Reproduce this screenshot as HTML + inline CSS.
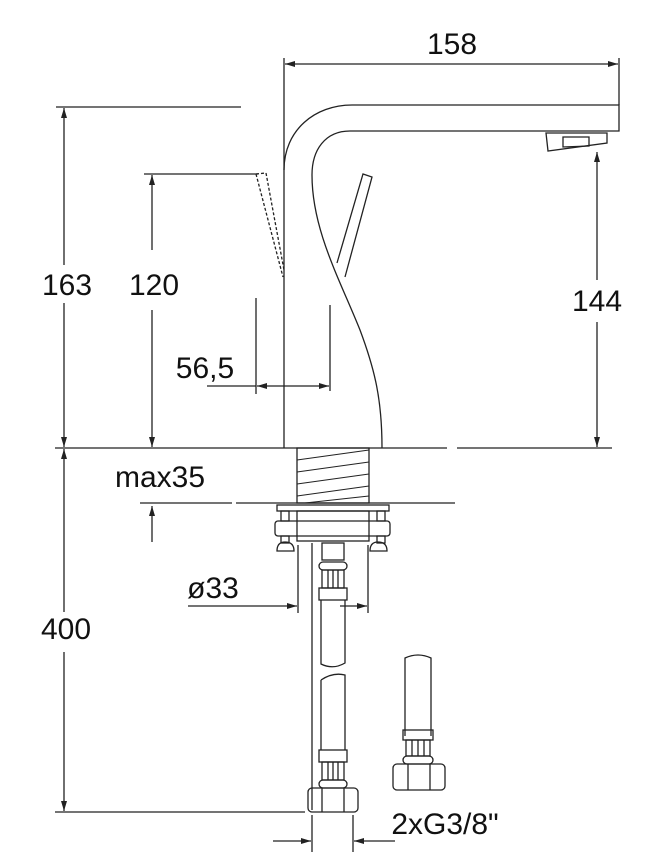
<!DOCTYPE html>
<html><head><style>body{margin:0;background:#fff}svg{display:block}</style></head><body>
<svg width="665" height="866" viewBox="0 0 665 866" xmlns="http://www.w3.org/2000/svg" font-family="Liberation Sans, sans-serif" font-size="30" fill="none" stroke="#222" stroke-width="1.3">
<defs>
<marker id="a" viewBox="0 0 10 6" refX="10" refY="3" markerWidth="10" markerHeight="6" orient="auto-start-reverse" markerUnits="userSpaceOnUse"><path d="M0,0L10,3L0,6z" fill="#222" stroke="none"/></marker>
</defs>
<g fill="#111" stroke="none">
<text x="452" y="54" text-anchor="middle">158</text>
<text x="67" y="295" text-anchor="middle">163</text>
<text x="154" y="295" text-anchor="middle">120</text>
<text x="597" y="311" text-anchor="middle">144</text>
<text x="205" y="378" text-anchor="middle">56,5</text>
<text x="160" y="487" text-anchor="middle">max35</text>
<text x="213" y="598" text-anchor="middle">ø33</text>
<text x="66" y="639" text-anchor="middle">400</text>
<text x="445" y="834" text-anchor="middle">2xG3/8"</text>
</g>
<!-- top dim -->
<line x1="284" y1="58" x2="284" y2="448"/>
<line x1="619" y1="58" x2="619" y2="105"/>
<line x1="285" y1="64" x2="618" y2="64" marker-start="url(#a)" marker-end="url(#a)"/>
<!-- spout -->
<path d="M284,170 C284,130 315,105 352,105 L619,105 L619,131 L350,131 C325,131 312,150 312,175 C312,230 340,280 360,330 C375,370 382,400 382,448"/>
<path d="M546,133 L607,133 L607,143 L548,151 Z"/>
<path d="M563,137 L589,137 L589,146 L563,147 Z"/>
<path d="M337,263 L363,174 L372,177 L345,277"/>
<path d="M256,174 L283,277 M266,173 L284,270 M256,174 L266,173" stroke-dasharray="3,2"/>
<!-- 163 / 120 -->
<line x1="56" y1="107" x2="241" y2="107"/>
<line x1="64" y1="108" x2="64" y2="265" marker-start="url(#a)"/>
<line x1="64" y1="303" x2="64" y2="447" marker-end="url(#a)"/>
<line x1="144" y1="174" x2="258" y2="174"/>
<line x1="152" y1="175" x2="152" y2="250" marker-start="url(#a)"/>
<line x1="152" y1="310" x2="152" y2="447" marker-end="url(#a)"/>
<!-- 144 -->
<line x1="597" y1="152" x2="597" y2="280" marker-start="url(#a)"/>
<line x1="597" y1="322" x2="597" y2="447" marker-end="url(#a)"/>
<!-- 56,5 -->
<line x1="256" y1="298" x2="256" y2="394"/>
<line x1="330" y1="305" x2="330" y2="391"/>
<line x1="207" y1="386" x2="256" y2="386"/>
<line x1="257" y1="386" x2="329" y2="386" marker-start="url(#a)" marker-end="url(#a)"/>
<!-- base -->
<line x1="55" y1="448" x2="447" y2="448"/>
<line x1="457" y1="448" x2="612" y2="448"/>
<!-- shank -->
<rect x="297" y="448" width="72" height="55"/>
<g stroke-width="1">
<line x1="297" y1="460" x2="369" y2="450"/><line x1="297" y1="472" x2="369" y2="462"/>
<line x1="297" y1="484" x2="369" y2="474"/><line x1="297" y1="496" x2="369" y2="486"/>
<line x1="305" y1="503" x2="369" y2="496"/>
</g>
<line x1="140" y1="503" x2="232" y2="503"/>
<line x1="236" y1="503" x2="455" y2="503"/>
<line x1="152" y1="542" x2="152" y2="506" marker-end="url(#a)"/>
<rect x="277" y="505" width="112" height="6"/>
<rect x="297" y="511" width="72" height="30"/>
<rect x="275" y="521" width="115" height="15" rx="3"/>
<rect x="281" y="511" width="8" height="10"/><rect x="377" y="511" width="8" height="10"/>
<rect x="281" y="536" width="8" height="7"/><rect x="377" y="536" width="8" height="7"/>
<path d="M277,551 Q277,542 285,542 Q294,542 294,551 Z M370,551 Q370,542 378,542 Q387,542 387,551 Z"/>
<!-- ø33 -->
<line x1="298" y1="545" x2="298" y2="613"/>
<line x1="368" y1="545" x2="368" y2="613"/>
<line x1="188" y1="606" x2="297" y2="606" marker-end="url(#a)"/>
<line x1="340" y1="606" x2="367" y2="606" marker-end="url(#a)"/>
<!-- hose 1 -->
<line x1="312" y1="543" x2="312" y2="810"/>
<rect x="322" y="543" width="22" height="17"/>
<rect x="319" y="562" width="28" height="8" rx="4"/>
<rect x="322" y="570" width="22" height="18"/>
<line x1="328" y1="570" x2="328" y2="588"/><line x1="333" y1="570" x2="333" y2="588"/><line x1="338" y1="570" x2="338" y2="588"/>
<rect x="319" y="588" width="28" height="12"/>
<path d="M321,600 L321,664 Q333,670 345,663 L345,600"/>
<path d="M321,680 Q333,672 345,675 L345,750 M321,680 L321,750"/>
<rect x="319" y="750" width="28" height="12"/>
<rect x="322" y="762" width="22" height="18"/>
<line x1="328" y1="762" x2="328" y2="780"/><line x1="333" y1="762" x2="333" y2="780"/><line x1="338" y1="762" x2="338" y2="780"/>
<rect x="319" y="780" width="28" height="8" rx="4"/>
<rect x="308" y="788" width="50" height="24" rx="4"/>
<line x1="322" y1="788" x2="322" y2="812"/><line x1="344" y1="788" x2="344" y2="812"/>
<!-- 400 -->
<line x1="55" y1="812" x2="305" y2="812"/>
<line x1="64" y1="449" x2="64" y2="612" marker-start="url(#a)"/>
<line x1="64" y1="652" x2="64" y2="811" marker-end="url(#a)"/>
<!-- 2xG -->
<line x1="312" y1="815" x2="312" y2="852"/>
<line x1="353" y1="815" x2="353" y2="852"/>
<line x1="273" y1="841" x2="311" y2="841" marker-end="url(#a)"/>
<line x1="395" y1="841" x2="354" y2="841" marker-end="url(#a)"/>
<!-- hose 2 -->
<path d="M405,736 L405,658 Q418,652 431,658 L431,736"/>
<rect x="403" y="730" width="30" height="10"/>
<rect x="406" y="740" width="24" height="16"/>
<line x1="412" y1="740" x2="412" y2="756"/><line x1="418" y1="740" x2="418" y2="756"/><line x1="424" y1="740" x2="424" y2="756"/>
<rect x="403" y="756" width="30" height="8" rx="4"/>
<rect x="393" y="764" width="52" height="26" rx="4"/>
<line x1="408" y1="764" x2="408" y2="790"/><line x1="430" y1="764" x2="430" y2="790"/>
</svg>
</body></html>
